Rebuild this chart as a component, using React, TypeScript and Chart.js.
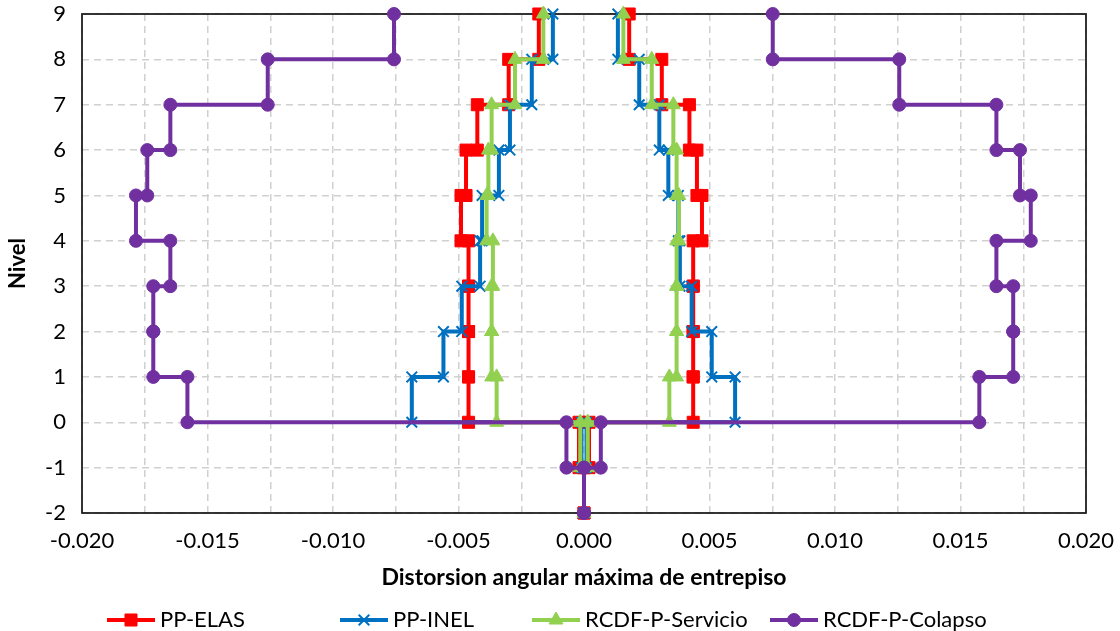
import React, { useEffect, useRef } from 'react';
import { Chart, registerables, PointElement } from 'chart.js';

Chart.register(...registerables);

// Top level of each story (story spans top -> top - 1)
const storyTop = [9, 8, 7, 6, 5, 4, 3, 2, 1, 0, -1];

const seriesNames = ['PP-ELAS', 'PP-INEL', 'RCDF-P-Servicio', 'RCDF-P-Colapso'];

// Negative-direction drifts, story 9 down to story -1 (basement)
const ppElasNeg = [-0.0018, -0.0030, -0.00425, -0.0047, -0.0049, -0.0046, -0.0046, -0.0046, -0.0046, -0.0002, 0];
const ppElasPos = [0.0018, 0.0031, 0.0042, 0.0045, 0.0047, 0.00435, 0.00435, 0.00435, 0.00435, 0.0002, 0];

const ppInelNeg = [-0.00124, -0.00208, -0.00295, -0.00339, -0.00406, -0.00414, -0.00487, -0.0056, -0.00686, -0.0001, 0];
const ppInelPos = [0.00135, 0.0022, 0.0030, 0.00336, 0.00376, 0.00382, 0.00429, 0.00509, 0.00602, 0.0001, 0];

const servicioNeg = [-0.00162, -0.00275, -0.00368, -0.00381, -0.00388, -0.00363, -0.00368, -0.00368, -0.00348, -0.00015, 0];
const servicioPos = [0.00157, 0.0027, 0.00356, 0.00369, 0.00378, 0.00369, 0.00369, 0.00369, 0.0034, 0.00015, 0];

const colapsoNeg = [-0.00757, -0.0126, -0.01648, -0.0174, -0.01785, -0.01648, -0.01716, -0.01716, -0.0158, -0.0007, 0];
const colapsoPos = [0.00752, 0.01256, 0.01643, 0.01737, 0.0178, 0.01643, 0.0171, 0.0171, 0.01575, 0.00067, 0];

const xMin = -0.02;
const xMax = 0.02;
const xGridStep = 0.0025;
const yMin = -2;
const yMax = 9;

const xTitle = 'Distorsion angular máxima de entrepiso';
const yTitle = 'Nivel';

const FONT = 'Lato';
const FONT_SIZE = 22;
const LEGEND_X = [107, 340, 532, 770];

function profile(neg: number[], pos: number[]) {
  const pts: { x: number; y: number }[] = [];
  storyTop.forEach((top, i) => {
    pts.push({ x: neg[i], y: top }, { x: neg[i], y: top - 1 });
  });
  for (let i = storyTop.length - 1; i >= 0; i--) {
    pts.push({ x: pos[i], y: storyTop[i] - 1 }, { x: pos[i], y: storyTop[i] });
  }
  return pts;
}

const borderPlugin = {
  id: 'plotBorder',
  beforeDatasetsDraw(chart: any) {
    const { ctx, chartArea } = chart;
    ctx.save();
    ctx.strokeStyle = '#1a1a1a';
    ctx.lineWidth = 1.75;
    ctx.strokeRect(chartArea.left, chartArea.top, chartArea.right - chartArea.left, chartArea.bottom - chartArea.top);
    ctx.restore();
  },
};

const legendPlugin = {
  id: 'excelLegend',
  afterDraw(chart: any) {
    const ctx = chart.ctx;
    const y = chart.height - 11;
    const area = { left: 0, top: 0, right: chart.width, bottom: chart.height };
    chart.data.datasets.forEach((ds: any, i: number) => {
      const x0 = LEGEND_X[i];
      ctx.save();
      ctx.strokeStyle = ds.borderColor;
      ctx.lineWidth = ds.borderWidth;
      ctx.beginPath();
      ctx.moveTo(x0, y);
      ctx.lineTo(x0 + 48, y);
      ctx.stroke();
      const el: any = new (PointElement as any)({
        x: x0 + 24,
        y,
        options: {
          radius: ds.pointRadius,
          pointStyle: ds.pointStyle,
          rotation: 0,
          borderWidth: ds.pointBorderWidth,
          backgroundColor: ds.pointBackgroundColor,
          borderColor: ds.pointBorderColor,
        },
      });
      el.draw(ctx, area);
      ctx.fillStyle = '#000';
      ctx.font = `${FONT_SIZE}px ${FONT}`;
      ctx.textBaseline = 'middle';
      ctx.textAlign = 'left';
      ctx.fillText(ds.label, x0 + 53, y);
      ctx.restore();
    });
  },
};

export default function App() {
  const canvasRef = useRef<HTMLCanvasElement | null>(null);

  useEffect(() => {
    if (!canvasRef.current) return;
    const mk = (label: string, data: any, color: string, style: string, radius: number, bw: number, order: number, fill: string) => ({
      label,
      data,
      showLine: true,
      borderColor: color,
      backgroundColor: fill,
      borderWidth: 4,
      tension: 0,
      pointStyle: style,
      pointRadius: radius,
      pointHoverRadius: radius,
      pointBorderWidth: bw,
      pointBorderColor: color,
      pointBackgroundColor: fill,
      order,
      clip: false,
    });

    const chart = new Chart(canvasRef.current, {
      type: 'scatter',
      data: {
        datasets: [
          mk(seriesNames[0], profile(ppElasNeg, ppElasPos), '#FF0000', 'rect', 8.5, 1, 4, '#FF0000'),
          mk(seriesNames[1], profile(ppInelNeg, ppInelPos), '#0070C0', 'crossRot', 7.5, 2, 3, '#0070C0'),
          mk(seriesNames[2], profile(servicioNeg, servicioPos), '#92D050', 'triangle', 8, 1, 2, '#92D050'),
          mk(seriesNames[3], profile(colapsoNeg, colapsoPos), '#7030A0', 'circle', 6.5, 1, 1, '#7030A0'),
        ] as any,
      },
      options: {
        animation: false,
        responsive: true,
        maintainAspectRatio: false,
        layout: { autoPadding: false, padding: { top: 14, right: 34, bottom: 40, left: 5 } },
        plugins: {
          legend: { display: false },
          tooltip: { enabled: false },
        },
        scales: {
          x: {
            type: 'linear',
            min: xMin,
            max: xMax,
            afterFit: (s: any) => {
              s.height = 78;
              s.paddingLeft = 0;
              s.paddingRight = 0;
            },
            ticks: {
              stepSize: xGridStep,
              autoSkip: false,
              maxRotation: 0,
              minRotation: 0,
              padding: 15,
              color: '#000',
              font: { family: FONT, size: FONT_SIZE },
              callback: (v: any) => {
                const k = Math.round(Number(v) / xGridStep);
                if (Math.abs(k) % 2 === 1) return '';
                const val = k * xGridStep;
                return Math.abs(val) < 1e-9 ? '0.000' : val.toFixed(3);
              },
            },
            grid: { color: '#D0D0D0', lineWidth: 1.5, drawTicks: false, tickLength: 0 },
            border: { display: false, dash: [7, 5] },
            title: {
              display: true,
              text: xTitle,
              color: '#000',
              font: { family: FONT, size: 23, weight: 'bold' },
              padding: { top: 0, bottom: 0 },
            },
          },
          y: {
            type: 'linear',
            min: yMin,
            max: yMax,
            afterFit: (s: any) => {
              s.width = 77;
              s.paddingTop = 0;
              s.paddingBottom = 0;
            },
            ticks: {
              stepSize: 1,
              padding: 16,
              color: '#000',
              font: { family: FONT, size: FONT_SIZE },
              callback: (v: any) => String(Math.round(Number(v))),
            },
            grid: { color: '#D0D0D0', lineWidth: 1.5, drawTicks: false, tickLength: 0 },
            border: { display: false, dash: [7, 5] },
            title: {
              display: true,
              text: yTitle,
              color: '#000',
              font: { family: FONT, size: FONT_SIZE, weight: 'bold' },
              padding: { top: 0, bottom: 0 },
            },
          },
        },
      } as any,
      plugins: [borderPlugin, legendPlugin],
    });
    return () => chart.destroy();
  }, []);

  return (
    <div style={{ width: 1120, height: 631, position: 'relative', overflow: 'hidden', background: '#fff' }}>
      <style>{'html,body{margin:0;padding:0;overflow:hidden;}'}</style>
      <canvas ref={canvasRef} />
    </div>
  );
}
